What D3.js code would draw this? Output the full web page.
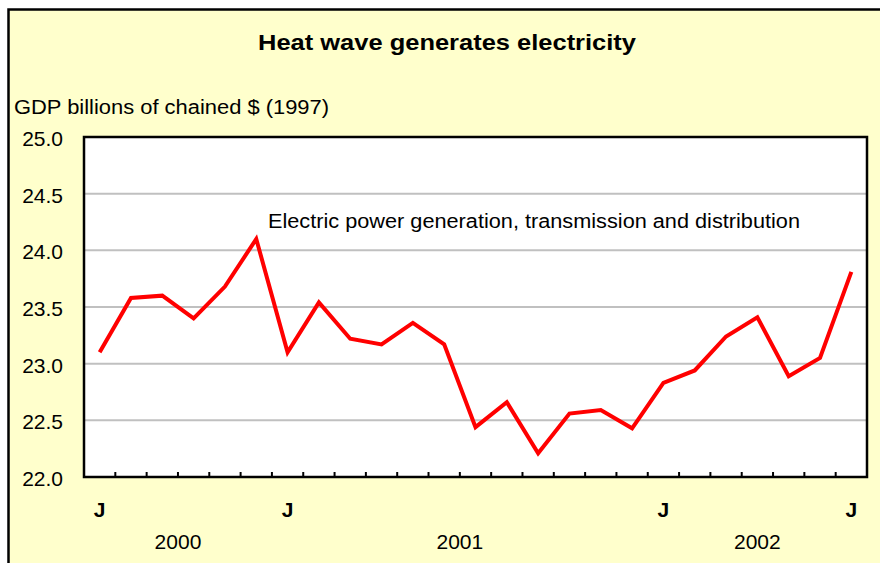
<!DOCTYPE html>
<html>
<head>
<meta charset="utf-8">
<script src="https://cdn.jsdelivr.net/npm/d3@7"></script>
<style>
  body { margin: 0; background: #fff; }
  text { font-family: "Liberation Sans", Arial, sans-serif; fill: #000; }
  .grid-line { stroke: #c0c0c0; stroke-width: 2; }
  .tick-label { font-size: 21px; }
</style>
</head>
<body>
<div id="wrapper"></div>
<script>
// monthly, Jul 2000 - Jul 2002
const months = [
  "2000-07", "2000-08", "2000-09", "2000-10", "2000-11", "2000-12",
  "2001-01", "2001-02", "2001-03", "2001-04", "2001-05", "2001-06",
  "2001-07", "2001-08", "2001-09", "2001-10", "2001-11", "2001-12",
  "2002-01", "2002-02", "2002-03", "2002-04", "2002-05", "2002-06",
  "2002-07"
]
const gdpValues = [
  23.10, 23.58, 23.60, 23.40, 23.68, 24.10,
  23.10, 23.54, 23.22, 23.17, 23.36, 23.17,
  22.44, 22.66, 22.21, 22.56, 22.59, 22.43,
  22.83, 22.94, 23.24, 23.41, 22.89, 23.05,
  23.81
]
// only these months carry a letter on the axis
const labelledMonths = ["2000-07", "2001-01", "2002-01", "2002-07"]
const yTicks = [22.0, 22.5, 23.0, 23.5, 24.0, 24.5, 25.0]

const title = "Heat wave generates electricity"
const yTitle = "GDP billions of chained $ (1997)"
const seriesLabel = "Electric power generation, transmission and distribution"

function drawChart() {
  const dataset = months.map((m, i) => ({ month: m, value: gdpValues[i] }))
  const monthAccessor = d => d.month
  const valueAccessor = d => d.value
  const parseMonth = d3.timeParse("%Y-%m")

  const dimensions = {
    width: 880,
    height: 563,
    margin: { top: 137, right: 13, bottom: 86, left: 84 },
  }
  dimensions.boundedWidth = dimensions.width - dimensions.margin.left - dimensions.margin.right
  dimensions.boundedHeight = dimensions.height - dimensions.margin.top - dimensions.margin.bottom

  const wrapper = d3.select("#wrapper")
    .append("svg")
      .attr("width", dimensions.width)
      .attr("height", dimensions.height)

  // chart area background
  wrapper.append("rect")
      .attr("x", 8.5)
      .attr("y", 9.5)
      .attr("width", 900)
      .attr("height", 600)
      .attr("fill", "#ffffcc")
      .attr("stroke", "#000")
      .attr("stroke-width", 2.5)

  wrapper.append("text")
      .text(title)
      .attr("x", 447)
      .attr("y", 50)
      .attr("text-anchor", "middle")
      .attr("textLength", 378)
      .attr("lengthAdjust", "spacingAndGlyphs")
      .style("font-size", "22px")
      .style("font-weight", "bold")

  wrapper.append("text")
      .text(yTitle)
      .attr("x", 14)
      .attr("y", 114)
      .attr("textLength", 315)
      .attr("lengthAdjust", "spacingAndGlyphs")
      .style("font-size", "20px")

  const bounds = wrapper.append("g")
      .attr("transform", `translate(${dimensions.margin.left},${dimensions.margin.top})`)

  // scales
  const xScale = d3.scaleBand()
    .domain(months)
    .range([0, dimensions.boundedWidth])
    .padding(0)

  const yScale = d3.scaleLinear()
    .domain([22, 25])
    .range([dimensions.boundedHeight, 0])

  const xCenter = d => xScale(monthAccessor(d)) + xScale.bandwidth() / 2

  // plot area
  bounds.append("rect")
      .attr("width", dimensions.boundedWidth)
      .attr("height", dimensions.boundedHeight)
      .attr("fill", "#fff")

  bounds.append("g")
    .selectAll("line")
    .data(yTicks.filter(d => d > 22 && d < 25))
    .join("line")
      .attr("class", "grid-line")
      .attr("x1", 0)
      .attr("x2", dimensions.boundedWidth)
      .attr("y1", d => yScale(d))
      .attr("y2", d => yScale(d))

  bounds.append("text")
      .text(seriesLabel)
      .attr("x", 184)
      .attr("y", 91)
      .attr("textLength", 532)
      .attr("lengthAdjust", "spacingAndGlyphs")
      .style("font-size", "20px")

  // data
  const lineGenerator = d3.line()
    .x(xCenter)
    .y(d => yScale(valueAccessor(d)))

  bounds.append("path")
      .attr("d", lineGenerator(dataset))
      .attr("fill", "none")
      .attr("stroke", "#ff0000")
      .attr("stroke-width", 4)

  // tick marks on the category axis, between months
  bounds.append("g")
    .selectAll("line")
    .data(months.slice(1))
    .join("line")
      .attr("x1", d => xScale(d))
      .attr("x2", d => xScale(d))
      .attr("y1", dimensions.boundedHeight)
      .attr("y2", dimensions.boundedHeight - 5)
      .attr("stroke", "#000")
      .attr("stroke-width", 2)

  bounds.append("rect")
      .attr("width", dimensions.boundedWidth)
      .attr("height", dimensions.boundedHeight)
      .attr("fill", "none")
      .attr("stroke", "#000")
      .attr("stroke-width", 2.5)

  // y tick labels
  bounds.append("g")
    .selectAll("text")
    .data(yTicks)
    .join("text")
      .attr("class", "tick-label")
      .attr("x", -21)
      .attr("y", d => yScale(d) + 9)
      .attr("text-anchor", "end")
      .text(d3.format(".1f"))

  // month letters
  bounds.append("g")
    .selectAll("text")
    .data(labelledMonths)
    .join("text")
      .attr("class", "tick-label")
      .attr("x", d => xScale(d) + xScale.bandwidth() / 2)
      .attr("y", dimensions.boundedHeight + 40)
      .attr("text-anchor", "middle")
      .style("font-weight", "bold")
      .text(d => d3.timeFormat("%B")(parseMonth(d)).charAt(0))

  // year labels, centred under each year's months
  const years = d3.groups(months, d => d.slice(0, 4))
  bounds.append("g")
    .selectAll("text")
    .data(years)
    .join("text")
      .attr("class", "tick-label")
      .attr("x", ([, ms]) => (xScale(ms[0]) + xScale(ms[ms.length - 1]) + xScale.bandwidth()) / 2)
      .attr("y", dimensions.boundedHeight + 72)
      .attr("text-anchor", "middle")
      .text(([year]) => year)
}
drawChart()
</script>
</body>
</html>
